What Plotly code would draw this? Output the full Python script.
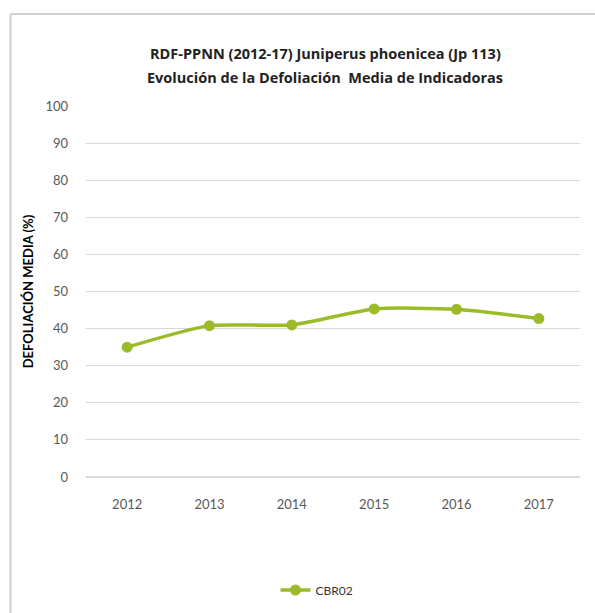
import plotly.graph_objects as go

years = ["2012", "2013", "2014", "2015", "2016", "2017"]
cbr02 = [35.0, 40.8, 41.0, 45.3, 45.2, 42.7]
y_ticks = [0, 10, 20, 30, 40, 50, 60, 70, 80, 90, 100]
title_lines = ["RDF-PPNN (2012-17) Juniperus phoenicea (Jp 113)",
               "Evolución de la Defoliación  Media de Indicadoras"]

GREEN = "#9bbb2a"

fig = go.Figure()
fig.add_trace(go.Scatter(
    x=years, y=cbr02, name="CBR02", mode="lines+markers",
    line=dict(color=GREEN, width=3.5, shape="spline", smoothing=0.6),
    marker=dict(color=GREEN, size=11),
))

L, R, T, B = 86, 15, 106, 136
W, H = 595, 613
pw, ph = W - L - R, H - T - B
bx = (10.5 - L) / pw
by = 1 + (T - 14) / ph

def py(pix):
    return (T + ph - pix) / ph

annotations = []
for txt, ypix in zip(title_lines, [53, 77]):
    annotations.append(dict(
        text=txt, xref="paper", yref="paper", x=(325 - L) / pw, y=py(ypix),
        xanchor="center", yanchor="middle", showarrow=False,
        font=dict(size=14.5, color="#222222", family="'Open Sans', sans-serif", weight="bold"),
    ))

fig.update_layout(
    width=W, height=H,
    margin=dict(l=L, r=R, t=T, b=B, autoexpand=False),
    paper_bgcolor="white", plot_bgcolor="white",
    font=dict(family="Lato, 'Open Sans', sans-serif", color="#595959"),
    annotations=annotations,
    xaxis=dict(
        type="category", range=[-0.5, 5.5], showgrid=False, showline=False,
        zeroline=False, ticks="", tickfont=dict(size=13, color="#595959"),
        ticklabelstandoff=18,
    ),
    yaxis=dict(
        range=[0, 100], tickvals=y_ticks, showgrid=True, gridcolor="#d9d9d9",
        gridwidth=1, zeroline=True, zerolinecolor="#d9d9d9", showline=False,
        ticks="", tickfont=dict(size=13, color="#595959"), ticklabelstandoff=17,
        title=dict(text="DEFOLIACIÓN MEDIA (%)", standoff=8,
                   font=dict(size=13, color="#000000", weight="bold")),
    ),
    showlegend=True,
    legend=dict(orientation="h", x=(317 - L) / pw, xanchor="center",
                yref="container", y=1 - 590 / H, yanchor="middle",
                font=dict(size=12, color="#333333")),
    shapes=[
        dict(type="line", xref="paper", yref="paper", x0=bx, x1=bx, y0=-1, y1=by,
             line=dict(color="#d0d0d0", width=2)),
        dict(type="line", xref="paper", yref="paper", x0=bx, x1=1.2, y0=by, y1=by,
             line=dict(color="#d0d0d0", width=2)),
    ],
)

fig.write_html("out.html", config={"displayModeBar": False},
               post_script="document.body.style.margin='0';")
